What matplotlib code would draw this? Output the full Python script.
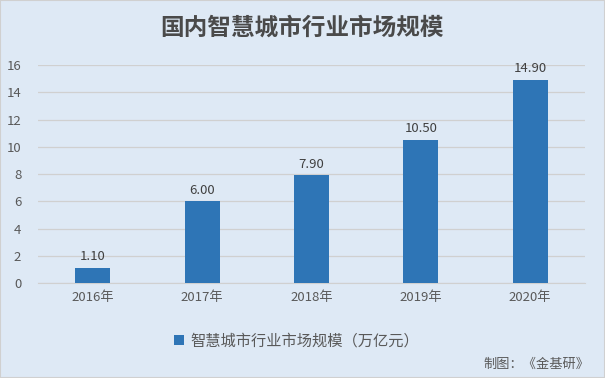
import matplotlib
matplotlib.use('Agg')
from matplotlib import pyplot as plt
import numpy as np

plt.rcParams['font.family'] = ['Noto Sans CJK SC', 'DejaVu Sans']

years = ['2016年', '2017年', '2018年', '2019年', '2020年']
values = [1.10, 6.00, 7.90, 10.50, 14.90]
series_name = '智慧城市行业市场规模（万亿元）'
title = '国内智慧城市行业市场规模'
source = '制图：《金基研》'

bg = '#DEE9F5'
bar_color = '#2E75B6'
text_color = '#595959'

fig = plt.figure(figsize=(6.05, 3.78), dpi=100, facecolor=bg)
ax = fig.add_axes([0.0628, 0.251, 0.904, 0.577], facecolor=bg)

x = np.arange(len(years))
ax.bar(x, values, width=0.32, color=bar_color, label=series_name, zorder=3)
for xi, v in zip(x, values):
    ax.text(xi, v + 0.35, f'{v:.2f}', ha='center', va='bottom', fontsize=9.5, color='#404040')

ax.set_xlim(-0.5, 4.5)
ax.set_ylim(0, 16)
ax.set_yticks(range(0, 17, 2))
ax.set_xticks(x)
ax.set_xticklabels(years)
ax.tick_params(axis='both', length=0, labelsize=9.5, labelcolor=text_color)
ax.tick_params(axis='y', pad=12)
ax.tick_params(axis='x', pad=6)
ax.grid(axis='y', color='#D0D0D0', linewidth=0.9, zorder=0)
for s in ['top', 'right', 'left']:
    ax.spines[s].set_visible(False)
ax.spines['bottom'].set_color('#D0D0D0')

fig.text(0.5, 0.928, title, ha='center', va='center', fontsize=17, color='#4a4a4a', fontweight='bold')

leg = fig.legend(loc='center', bbox_to_anchor=(0.49, 0.098), frameon=False, fontsize=11,
                 handlelength=0.65, handleheight=0.65, handletextpad=0.45)
for t in leg.get_texts():
    t.set_color(text_color)

fig.text(0.975, 0.037, source, ha='right', va='center', fontsize=9.5, color=text_color)

fig.patches.append(plt.Rectangle((0, 0), 1, 1, transform=fig.transFigure, fill=False,
                                 edgecolor='#D0D0D0', linewidth=1.5))

fig.savefig('out.png', dpi=100, facecolor=bg)
